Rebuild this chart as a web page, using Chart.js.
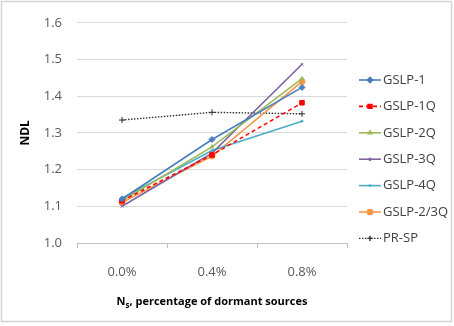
<!DOCTYPE html>
<html>
<head>
<meta charset="utf-8">
<script src="https://cdn.jsdelivr.net/npm/chart.js@4.4.1/dist/chart.umd.min.js"></script>
<style>
  html, body { margin: 0; padding: 0; background: #fff; }
  #wrap { width: 454px; height: 326px; position: relative; }
</style>
</head>
<body>
<div id="wrap"><canvas id="ndlChart" width="454" height="326"></canvas></div>
<script>
const categories = ['0.0%', '0.4%', '0.8%'];
const seriesNames = ['GSLP-1', 'GSLP-1Q', 'GSLP-2Q', 'GSLP-3Q', 'GSLP-4Q', 'GSLP-2/3Q', 'PR-SP'];
const gslp1 = [1.12, 1.282, 1.424];
const gslp1q = [1.115, 1.24, 1.382];
const gslp2q = [1.115, 1.262, 1.448];
const gslp3q = [1.100, 1.245, 1.487];
const gslp4q = [1.122, 1.252, 1.332];
const gslp23q = [1.110, 1.237, 1.440];
const prsp = [1.335, 1.356, 1.352];
const yTicks = [1.0, 1.1, 1.2, 1.3, 1.4, 1.5, 1.6];

const FONT = "'Open Sans', sans-serif";

// dataset helper
function series(name, data, color, pointStyle, radius, dash) {
    return {
        label: name,
        data: data,
        borderColor: color,
        backgroundColor: color,
        borderWidth: 1.6,
        borderDash: dash || [],
        pointStyle: pointStyle,
        pointRadius: radius,
        pointBorderWidth: 1,
        pointBorderColor: color,
        pointBackgroundColor: color,
        tension: 0
    };
}

const datasets = [
    series(seriesNames[0], gslp1, '#4a7ebb', 'rectRot', 3),
    series(seriesNames[1], gslp1q, '#ff0000', 'rect', 3.2, [4, 3]),
    series(seriesNames[2], gslp2q, '#9bbb59', 'triangle', 2.2),
    series(seriesNames[3], gslp3q, '#8064a2', 'crossRot', 2),
    series(seriesNames[4], gslp4q, '#4bacc6', 'star', 1.5),
    series(seriesNames[5], gslp23q, '#f79646', 'circle', 3),
    series(seriesNames[6], prsp, '#303030', 'cross', 3, [1.5, 1.5])
];
datasets[6].borderWidth = 1.4;

// outer border, x title with subscript and custom legend
const decor = {
    id: 'decor',
    beforeDraw(chart) {
        const ctx = chart.ctx;
        ctx.save();
        ctx.strokeStyle = '#d4d4d4';
        ctx.lineWidth = 1.5;
        ctx.strokeRect(1.5, 1.5, 450, 320);
        ctx.restore();
    },
    afterDraw(chart) {
        const ctx = chart.ctx;
        const area = chart.chartArea;
        ctx.save();
        // x axis title
        const main = 'N';
        const sub = 's';
        const rest = ', percentage of dormant sources';
        ctx.fillStyle = '#000';
        ctx.textBaseline = 'alphabetic';
        ctx.font = 'bold 11px ' + FONT;
        const w1 = ctx.measureText(main).width;
        const w3 = ctx.measureText(rest).width;
        ctx.font = 'bold 8px ' + FONT;
        const w2 = ctx.measureText(sub).width;
        let x = (area.left + area.right) / 2 - (w1 + w2 + w3) / 2;
        const base = 305;
        ctx.font = 'bold 11px ' + FONT;
        ctx.textAlign = 'left';
        ctx.fillText(main, x, base);
        ctx.font = 'bold 8px ' + FONT;
        ctx.fillText(sub, x + w1, base + 3);
        ctx.font = 'bold 11px ' + FONT;
        ctx.fillText(rest, x + w1 + w2, base);

        // legend
        chart.data.datasets.forEach((ds, i) => {
            const y = 80 + i * 26.4;
            ctx.strokeStyle = ds.borderColor;
            ctx.lineWidth = ds.borderWidth;
            ctx.setLineDash(ds.borderDash);
            ctx.beginPath();
            ctx.moveTo(359, y);
            ctx.lineTo(381, y);
            ctx.stroke();
            ctx.setLineDash([]);
            Chart.helpers.drawPoint(ctx, {
                pointStyle: ds.pointStyle,
                radius: ds.pointRadius * 0.85,
                rotation: 0,
                borderWidth: 1
            }, 370, y);
            ctx.fillStyle = ds.borderColor;
            ctx.fill();
            ctx.fillStyle = '#404040';
            ctx.font = '13px ' + FONT;
            ctx.textBaseline = 'middle';
            ctx.textAlign = 'left';
            ctx.fillText(ds.label, 383, y);
        });
        ctx.restore();
    }
};

new Chart(document.getElementById('ndlChart'), {
    type: 'line',
    data: {
        labels: categories,
        datasets: datasets
    },
    options: {
        responsive: false,
        animation: false,
        layout: {
            padding: { left: 14, right: 107, top: 18, bottom: 0 }
        },
        scales: {
            x: {
                offset: true,
                grid: {
                    display: true,
                    offset: true,
                    drawOnChartArea: false,
                    tickLength: 5,
                    color: '#bfbfbf'
                },
                border: { color: '#bfbfbf' },
                ticks: {
                    color: '#595959',
                    padding: 16,
                    font: { family: FONT, size: 13 }
                },
                afterFit(scale) {
                    scale.height = 83;
                }
            },
            y: {
                min: 1.0,
                max: 1.6,
                afterBuildTicks(scale) {
                    scale.ticks = yTicks.map(v => ({ value: v }));
                },
                grid: {
                    color: '#d9d9d9',
                    drawTicks: false
                },
                border: { display: false },
                ticks: {
                    color: '#595959',
                    padding: 15,
                    font: { family: FONT, size: 13 },
                    callback: (v) => Number(v).toFixed(1)
                },
                title: {
                    display: true,
                    text: 'NDL',
                    color: '#000',
                    font: { family: FONT, size: 12, weight: 'bold' }
                },
                afterFit(scale) {
                    scale.width = 63;
                }
            }
        },
        plugins: {
            legend: { display: false },
            tooltip: { enabled: false }
        }
    },
    plugins: [decor]
});
</script>
</body>
</html>
